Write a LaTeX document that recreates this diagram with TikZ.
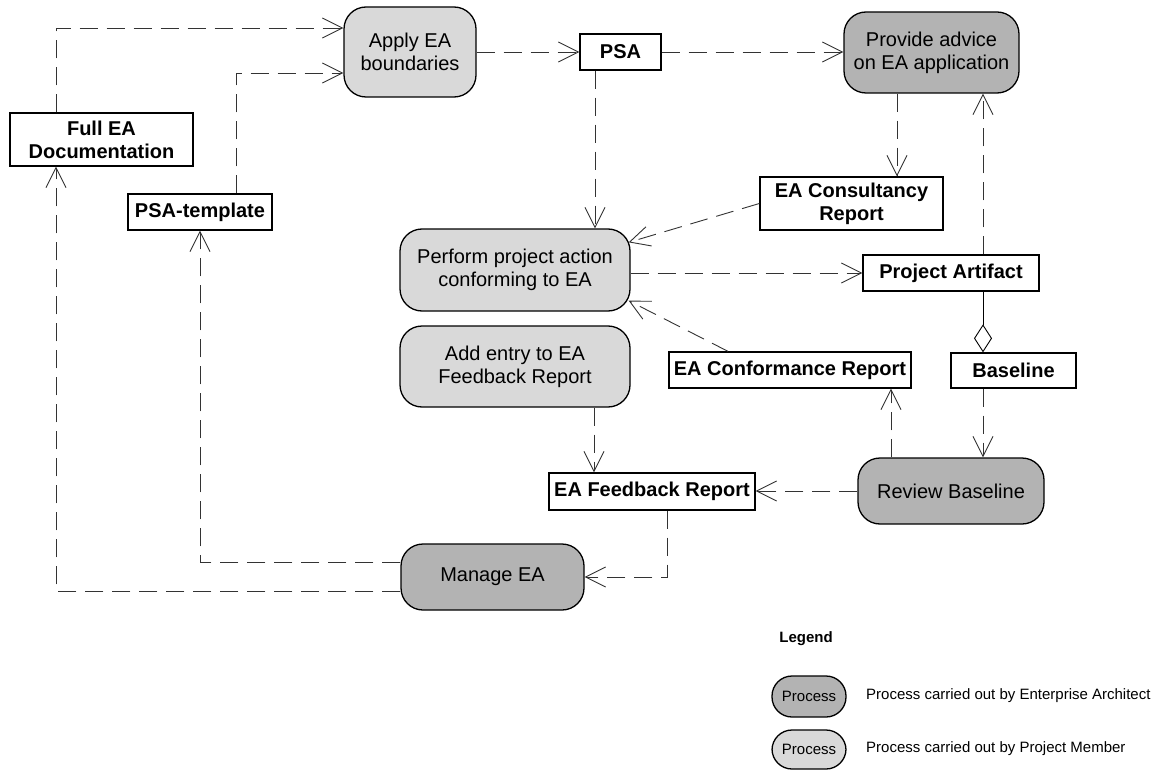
\documentclass[tikz,border=0pt]{standalone}
\usepackage{fontspec}
\setmainfont{Liberation Sans}
\usetikzlibrary{arrows.meta}
\definecolor{lightg}{RGB}{217,217,217}
\definecolor{darkg}{RGB}{179,179,179}
\newcommand{\maintxt}{\fontsize{20}{23}\selectfont}
\newcommand{\smalltxt}{\fontsize{15}{18}\selectfont}
\begin{document}
\begin{tikzpicture}[x=1pt,y=-1pt,
  proc/.style={draw=black, line width=1.3pt, rounded corners=22pt, align=center, font=\maintxt, inner sep=0pt},
  lightproc/.style={proc, fill=lightg},
  darkproc/.style={proc, fill=darkg},
  artbox/.style={draw=black, line width=1.3pt, fill=white, align=center, font=\maintxt\bfseries, inner sep=0pt},
  dep/.style={draw=black!80, line width=0.9pt, dash pattern=on 18pt off 9pt,
    -{Straight Barb[length=20pt,width=20pt,line width=0.9pt]}},
  agg/.style={draw=black, line width=0.9pt, -{Diamond[open,length=28pt,width=18pt,line width=0.9pt]}},
  legoval/.style={draw=black, line width=1.3pt, rounded corners=20pt, inner sep=0pt, font=\smalltxt, minimum width=74pt},
  legtext/.style={anchor=west, inner sep=0pt, font=\smalltxt}
]
\useasboundingbox (0,0) rectangle (1161,770);

% process nodes
\node[lightproc, minimum width=132pt, minimum height=90pt] (apply) at (410,52) {Apply EA\\boundaries};
\node[darkproc, minimum width=175pt, minimum height=81pt] (provide) at (931.5,52.5) {Provide advice\\on EA application};
\node[lightproc, minimum width=230pt, minimum height=82pt] (perform) at (515,270) {Perform project action\\conforming to EA};
\node[lightproc, minimum width=230pt, minimum height=81pt] (addentry) at (515,366.5) {Add entry to EA\\Feedback Report};
\node[darkproc, minimum width=186pt, minimum height=66pt] (review) at (951,491) {Review Baseline};
\node[darkproc, minimum width=183pt, minimum height=66pt] (manage) at (492.5,577) {Manage EA};

% artifacts
\node[artbox, minimum width=81pt, minimum height=36pt] (psa) at (620.5,52) {PSA};
\node[artbox, minimum width=183pt, minimum height=53pt] (fulldoc) at (101.5,139.5) {Full EA\\Documentation};
\node[artbox, minimum width=144pt, minimum height=36pt] (psatpl) at (200,212) {PSA-template};
\node[artbox, minimum width=183pt, minimum height=53pt] (consult) at (851.5,203.5) {EA Consultancy\\Report};
\node[artbox, minimum width=176pt, minimum height=36pt] (artifact) at (951,273) {Project Artifact};
\node[artbox, minimum width=242pt, minimum height=36pt] (conform) at (790,370) {EA Conformance Report};
\node[artbox, minimum width=125pt, minimum height=35pt] (baseline) at (1013.5,370.5) {Baseline};
\node[artbox, minimum width=206pt, minimum height=37pt] (feedback) at (652,491.5) {EA Feedback Report};

% connector anchor points
\coordinate (fdtop) at ([xshift=-45.5pt]fulldoc.north);
\coordinate (fdbot) at ([xshift=-45.5pt]fulldoc.south);
\coordinate (pttop) at ([xshift=36pt]psatpl.north);
\coordinate (psabot) at ([xshift=-25.5pt]psa.south);
\coordinate (provbot) at ([xshift=-34.5pt]provide.south);
\coordinate (arttop) at ([xshift=32pt]artifact.north);
\coordinate (artbot) at ([xshift=32pt]artifact.south);
\coordinate (basebot) at ([xshift=-30.5pt]baseline.south);
\coordinate (revtop) at ([xshift=-60pt]review.north);
\coordinate (addbot) at ([xshift=79pt]addentry.south);
\coordinate (fbbot) at ([xshift=15pt]feedback.south);
\coordinate (conftop) at ([xshift=-62pt]conform.north);

% connectors
\draw[dep] (fdtop) |- ([yshift=24pt]apply.west);
\draw[dep] (pttop) |- ([yshift=-21pt]apply.west);
\draw[dep] (apply.east) -- (psa.west);
\draw[dep] (psa.east) -- (psa.east -| provide.west);
\draw[dep] (psabot) -- (psabot |- perform.north);
\draw[dep] (provbot) -- (provbot |- consult.north);
\draw[dep] (consult.west) -- ([xshift=-2pt,yshift=-14pt]perform.north east);
\draw[dep] (perform.east |- artifact.west) -- (artifact.west);
\draw[dep] (conftop) -- ([xshift=-2pt,yshift=11pt]perform.south east);
\draw[dep] (arttop) -- (arttop |- provide.south);
\draw[agg] (artbot) -- (artbot |- baseline.north);
\draw[dep] (basebot) -- (basebot |- review.north);
\draw[dep] (revtop) -- (revtop |- conform.south);
\draw[dep] (review.west) -- (review.west -| feedback.east);
\draw[dep] (addbot) -- (addbot |- feedback.north);
\draw[dep] (fbbot) |- (manage.east);
\draw[dep] ([yshift=15pt]manage.west) -| (psatpl.south);
\draw[dep] ([yshift=-14pt]manage.west) -| (fdbot);

% legend
\node[font=\smalltxt\bfseries, inner sep=0pt] (legend) at (806,639) {Legend};
\node[legoval, fill=darkg, minimum height=41pt] (leg1) at (809,696.5) {Process};
\node[legoval, fill=lightg, minimum height=39pt] (leg2) at (809,749.5) {Process};
\node[legtext] (leg1txt) at (866,696) {Process carried out by Enterprise Architect};
\node[legtext] (leg2txt) at (866,749) {Process carried out by Project Member};
\end{tikzpicture}
\end{document}
